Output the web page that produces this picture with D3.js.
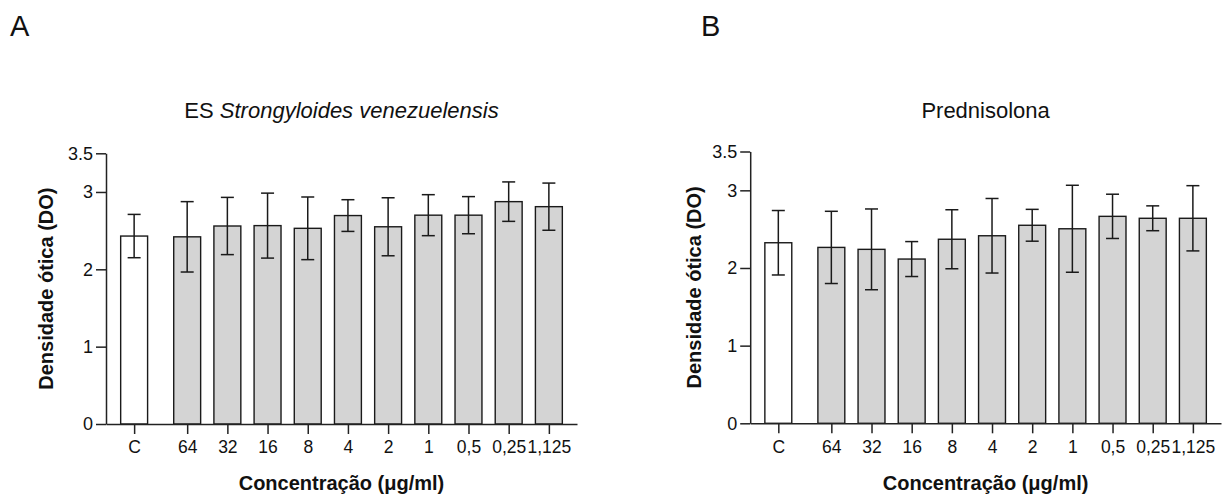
<!DOCTYPE html>
<html><head><meta charset="utf-8">
<script src="https://cdn.jsdelivr.net/npm/d3@7/dist/d3.min.js"></script>
<style>body{margin:0;background:#fff}svg{display:block}text{font-family:"Liberation Sans",Arial,sans-serif;fill:#111}</style>
</head><body>
<script>
const categories = ["C","64","32","16","8","4","2","1","0,5","0,25","1,125"];
const meanA = [2.43,2.42,2.56,2.565,2.53,2.695,2.55,2.70,2.70,2.875,2.81];
const sdA   = [0.28,0.455,0.37,0.42,0.405,0.205,0.375,0.265,0.24,0.255,0.305];
const meanB = [2.325,2.265,2.24,2.115,2.37,2.415,2.55,2.505,2.665,2.64,2.64];
const sdB   = [0.415,0.465,0.52,0.225,0.38,0.48,0.205,0.56,0.285,0.16,0.42];
const yTicks = [0,1,2,3,3.5];
const yTickLabels = ["0","1","2","3","3.5"];
const yDomain = [0,3.5];
const xTitle = "Concentração (μg/ml)";
const yTitle = "Densidade ótica (DO)";

const W=1222,H=495;
const svg=d3.select("body").append("svg").attr("width",W).attr("height",H);

const panels=[
  {letter:"A",lx:10,left:106,right:577,bottom:424,top:153.3,ytOff:53,
   title:[{t:"ES ",i:false},{t:"Strongyloides venezuelensis",i:true}],mean:meanA,sd:sdA},
  {letter:"B",lx:701,left:750.2,right:1221,bottom:423.3,top:151.5,ytOff:49.5,
   title:[{t:"Prednisolona",i:false}],mean:meanB,sd:sdB}
];
const gapExtra=0.32, pad=0.7, barFrac=0.67;

panels.forEach(p=>{
  const g=svg.append("g");
  const slots=categories.map((c,i)=>i===0?0:i+gapExtra);
  const x=d3.scaleLinear().domain([-pad,slots[slots.length-1]+pad]).range([p.left,p.right]);
  const y=d3.scaleLinear().domain(yDomain).range([p.bottom,p.top]);
  const step=x(1)-x(0), bw=step*barFrac, cap=13;
  const data=categories.map((c,i)=>({c,s:slots[i],m:p.mean[i],e:p.sd[i],i}));

  g.append("text").attr("x",p.lx).attr("y",36).attr("font-size",29).text(p.letter);
  const tt=g.append("text").attr("x",(p.left+p.right)/2).attr("y",118).attr("text-anchor","middle").attr("font-size",22);
  p.title.forEach(s=>tt.append("tspan").attr("font-style",s.i?"italic":"normal").text(s.t));

  g.selectAll("rect.bar").data(data).join("rect")
    .attr("x",d=>x(d.s)-bw/2).attr("width",bw)
    .attr("y",d=>y(d.m)).attr("height",d=>y(0)-y(d.m))
    .attr("fill",d=>d.i===0?"#ffffff":"#d4d4d4")
    .attr("stroke","#1a1a1a").attr("stroke-width",1.4);
  const eb=g.selectAll("g.err").data(data).join("g").attr("stroke","#1a1a1a").attr("stroke-width",1.5);
  eb.append("line").attr("x1",d=>x(d.s)).attr("x2",d=>x(d.s)).attr("y1",d=>y(d.m+d.e)).attr("y2",d=>y(d.m-d.e));
  eb.append("line").attr("x1",d=>x(d.s)-cap/2).attr("x2",d=>x(d.s)+cap/2).attr("y1",d=>y(d.m+d.e)).attr("y2",d=>y(d.m+d.e));
  eb.append("line").attr("x1",d=>x(d.s)-cap/2).attr("x2",d=>x(d.s)+cap/2).attr("y1",d=>y(d.m-d.e)).attr("y2",d=>y(d.m-d.e));

  const ya=g.append("g").attr("transform",`translate(${p.left},0)`)
    .call(d3.axisLeft(y).tickValues(yTicks).tickFormat((d,i)=>yTickLabels[i]).tickSize(10).tickSizeOuter(0).tickPadding(3));
  ya.select(".domain").attr("stroke","#222").attr("stroke-width",1.5);
  ya.selectAll(".tick line").attr("stroke","#222").attr("stroke-width",1.5);
  ya.selectAll(".tick text").attr("font-size",18).attr("font-family","Liberation Sans, Arial, sans-serif").attr("fill","#111");

  const xa=g.append("g").attr("transform",`translate(0,${p.bottom})`)
    .call(d3.axisBottom(x).tickValues(slots).tickFormat((d,i)=>categories[i]).tickSize(10).tickSizeOuter(0).tickPadding(7));
  xa.select(".domain").attr("stroke","#222").attr("stroke-width",1.5);
  xa.selectAll(".tick line").attr("stroke","#222").attr("stroke-width",1.5);
  xa.selectAll(".tick text").attr("font-size",17.5).attr("font-family","Liberation Sans, Arial, sans-serif").attr("fill","#111");

  g.append("text").attr("x",(p.left+p.right)/2).attr("y",490).attr("text-anchor","middle")
    .attr("font-size",20).attr("font-weight","bold").text(xTitle);
  g.append("text").attr("transform",`translate(${p.left-p.ytOff},${(p.top+p.bottom)/2}) rotate(-90)`)
    .attr("text-anchor","middle").attr("font-size",20).attr("font-weight","bold").text(yTitle);
});
</script>
</body></html>
